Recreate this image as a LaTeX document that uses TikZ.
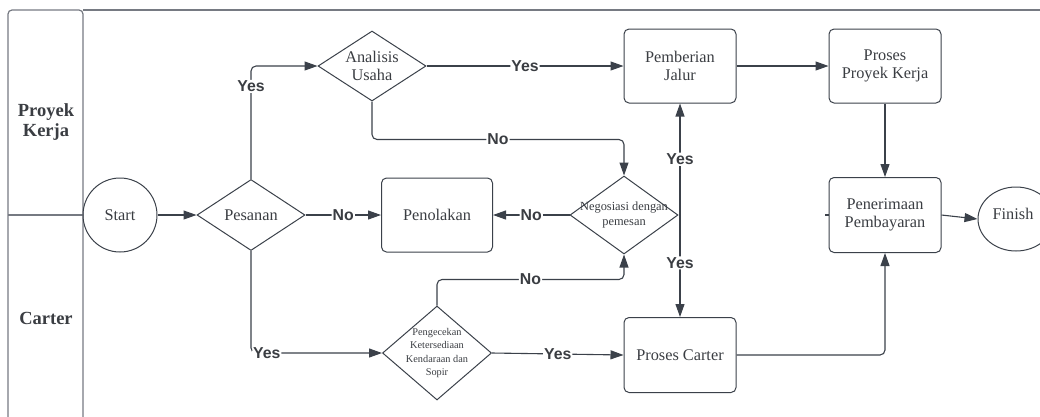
\documentclass[tikz,border=0pt]{standalone}
\usepackage{fontspec}
\setmainfont{Liberation Serif}
\newfontfamily\lblfont{Liberation Sans}
\usetikzlibrary{shapes.geometric,arrows.meta,calc}
\definecolor{linec}{HTML}{3B414A}
\definecolor{textc}{HTML}{3A3D42}
\definecolor{framec}{HTML}{767A82}
\tikzset{
  box/.style={draw=linec, line width=1pt, rounded corners=5pt, minimum width=112pt, minimum height=74pt, inner sep=0pt, align=center, text=textc, font=\fontsize{16.3}{19}\selectfont},
  dia/.style={draw=linec, line width=1pt, diamond, inner sep=0pt, align=center, text=textc},
  term/.style={draw=linec, line width=1pt, ellipse, inner sep=0pt, text=textc, font=\fontsize{16.3}{19}\selectfont},
  arr/.style={draw=linec, line width=1.1pt, rounded corners=5pt, -{Triangle[length=13pt,width=9pt]}},
  ln/.style={draw=linec, line width=1.1pt, rounded corners=5pt},
  lbl/.style={fill=white, inner sep=1pt, text=textc, font=\lblfont\bfseries\fontsize{15.8}{17}\selectfont},
  lane/.style={text=textc, font=\bfseries\fontsize{18.5}{22}\selectfont, align=center},
  frame/.style={draw=framec, line width=1.2pt},
}
\begin{document}
\begin{tikzpicture}[x=1pt,y=-1pt]
\useasboundingbox (0,0) rectangle (1040,416);
% frame
\draw[frame, rounded corners=4pt] (8,420) -- (8,10) -- (83,10) -- (83,420);
\draw[frame] (83,10) -- (1042,10);
\draw[frame] (8,215) -- (83,215);
\node[lane] (lanePK) at (46,122) {Proyek\\[-2pt]Kerja};
\node[lane] (laneC) at (46,318) {Carter};
% nodes
\node[term, minimum width=74pt, minimum height=74pt, circle] (start) at (120,215) {Start};
\node[dia, minimum width=108pt, minimum height=71pt, label={[text=textc,font=\fontsize{16.3}{19}\selectfont]center:Pesanan}] (pes) at (251,215) {};
\node[dia, minimum width=108pt, minimum height=70pt, label={[text=textc,font=\fontsize{16.3}{19}\selectfont,align=center]center:Analisis\\[-1pt]Usaha}] (ana) at (372,66) {};
\node[box] (pemb) at (680,66) {Pemberian\\[-1pt]Jalur};
\node[box] (ppk) at (885,66) {Proses\\[-1pt]Proyek Kerja};
\node[box, minimum width=111pt] (tol) at (437,215) {Penolakan};
\node[dia, minimum width=108pt, minimum height=78pt, label={[text=textc,font=\fontsize{12.4}{15}\selectfont,align=center]center:Negosiasi dengan\\pemesan}] (neg) at (624,215) {};
\node[box, minimum height=75pt] (bayar) at (885,215) {Penerimaan\\[-1pt]Pembayaran};
\node[term, minimum width=76pt, minimum height=64pt] (fin) at (1016,219) {};
\node[text=textc, font=\fontsize{16.3}{19}\selectfont] (fintext) at (1013,214) {Finish};
\node[dia, minimum width=109pt, minimum height=94pt, label={[text=textc,font=\fontsize{10.3}{13.5}\selectfont,align=center]center:Pengecekan\\Ketersediaan\\Kendaraan dan\\Sopir}] (cek) at (437,353) {};
\node[box, minimum height=75pt] (pc) at (680,355) {Proses Carter};
% connectors
\draw[arr] (start) -- (pes);
\draw[arr] (pes.north) -- node[lbl, pos=0.82]{Yes} (pes.north |- ana.west) -- (ana.west);
\draw[arr] (ana.east) -- node[lbl]{Yes} (pemb.west);
\draw[arr] (ana.south) -- ($(ana.south)+(0,38)$) -- node[lbl]{No} ($(ana.south)+(252,38)$) -- (neg.north);
\draw[arr] (pemb.east) -- (ppk.west);
\draw[arr] (ppk.south) -- (bayar.north);
\draw[arr] (pes.east) -- node[lbl]{No} (tol.west);
\draw[arr] (neg.west) -- node[lbl]{No} (tol.east);
\draw[arr] (pemb.south |- neg.east) -- node[lbl]{Yes} (pemb.south);
\draw[arr] (pc.north |- neg.east) -- node[lbl, pos=0.47]{Yes} (pc.north);
\draw[arr] (pes.south) -- (pes.south |- cek.west) -- node[lbl, pos=0.12]{Yes} (cek.west);
\draw[arr] (cek.east) -- node[lbl]{Yes} (pc.west);
\draw[arr] (cek.north) -- ($(cek.north)+(0,-26)$) -- node[lbl]{No} ($(cek.north)+(187,-26)$) -- (neg.south);
\draw[arr] (pc.east) -| (bayar.south);
\draw[arr] (bayar.east) -- (fin.west);
\coordinate (stub) at (825,215);
\draw[ln] (stub) -- (bayar.west);
\end{tikzpicture}
\end{document}
